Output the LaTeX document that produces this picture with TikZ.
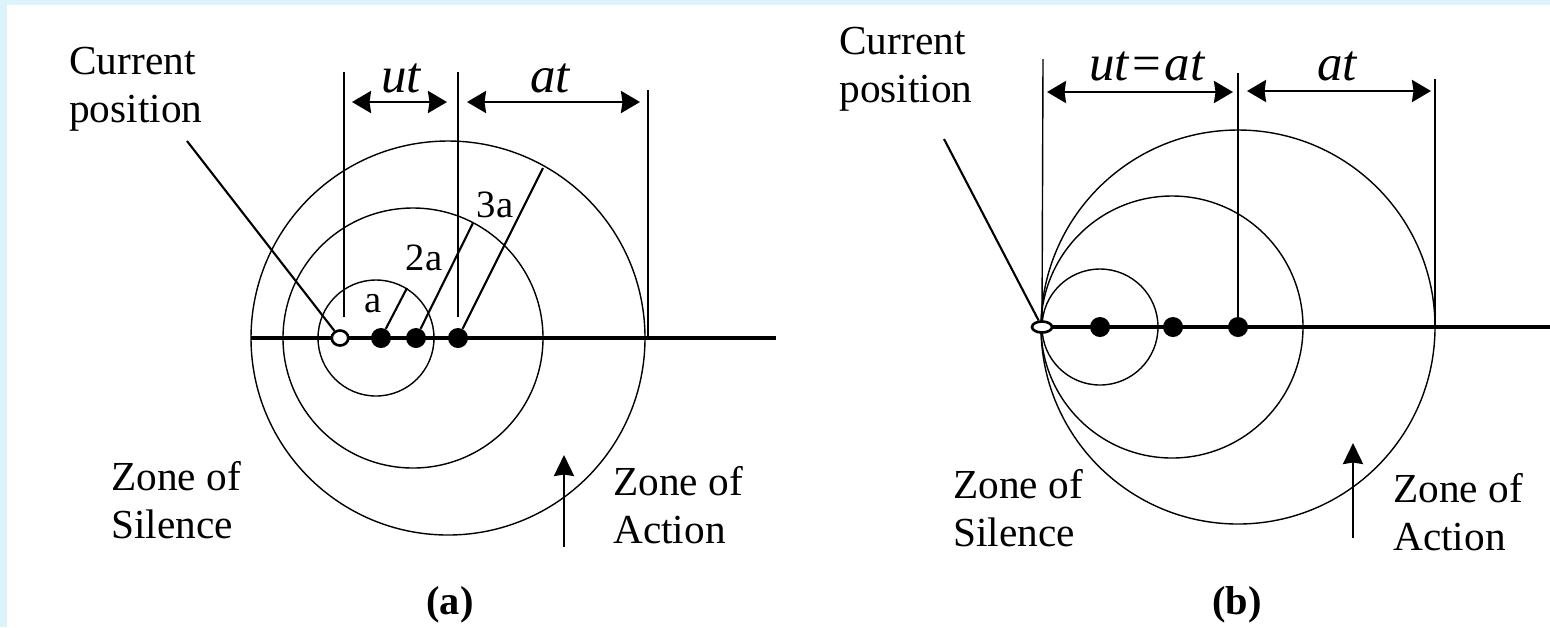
\documentclass[tikz,border=0pt]{standalone}
\usepackage{fontspec}
\setmainfont{Liberation Serif}
\usetikzlibrary{arrows.meta,shapes.geometric}
\definecolor{haze}{RGB}{221,243,252}
\definecolor{ink}{RGB}{0,0,0}
\tikzset{
  >={Stealth[length=3.8mm,width=4.4mm,inset=0.3mm]},
  dim/.style={<->,line width=1.6pt,draw=ink},
  guide/.style={line width=0.8pt,draw=ink},
  wave/.style={line width=0.8pt,draw=ink},
  ray/.style={line width=1.2pt,draw=ink},
  axis/.style={line width=2.2pt,draw=ink},
  rise/.style={-{Stealth[length=4.2mm,width=4mm,inset=0.3mm]},line width=1.5pt,draw=ink},
  dot/.style={circle,fill=ink,inner sep=0pt,minimum size=4mm},
  here/.style={ellipse,draw=ink,fill=white,line width=1.5pt,inner sep=0pt,
    minimum width=#1,minimum height=3mm},
  here/.default=3.3mm,
  tag/.style={font=\fontsize{23.5}{27.3}\selectfont,align=left,inner sep=0pt},
  num/.style={font=\fontsize{22}{26}\selectfont,inner sep=0pt},
  sym/.style={font=\fontsize{29}{34}\selectfont\itshape,inner sep=0pt},
  panel/.style={font=\fontsize{23}{27}\selectfont\bfseries,inner sep=0pt},
}
\begin{document}
\begin{tikzpicture}[x=0.02cm,y=-0.02cm]
  \useasboundingbox (0,0) rectangle (1550,627);
  \fill[haze] (0,0) rectangle (1550,627);
  \fill[white] (7,5) rectangle (1550,627);
  % panel (a)
  \coordinate (aL) at (251,338); \coordinate (aR) at (776,338);
  \draw[axis] (aL) -- (aR);
  \draw[wave] (376,338) circle[radius=58];
  \draw[wave] (413,338) circle[radius=130];
  \draw[wave] (448,338) circle[radius=197];
  \node[here] (a0) at (340,338) {};
  \node[dot] (a1) at (381,338) {};
  \node[dot] (a2) at (416,338) {};
  \node[dot] (a3) at (458,338) {};
  \coordinate (r1) at (407,288); \coordinate (r2) at (473,223); \coordinate (r3) at (543,168);
  \draw[ray] (a1) -- (r1); \draw[ray] (a2) -- (r2); \draw[ray] (a3) -- (r3);
  \node[num,anchor=base] at (373,312) {a};
  \node[num,anchor=base] at (424,270) {2a};
  \node[num,anchor=base] at (495,217) {3a};
  \draw[guide] (344,72) -- (344,317);
  \draw[guide] (458,72) -- (458,317);
  \draw[guide] (648,90) -- (648,338);
  \coordinate (u1) at (352,102); \coordinate (u2) at (447,102);
  \coordinate (t1) at (467,102); \coordinate (t2) at (640,102);
  \draw[dim] (u1) -- (u2); \draw[dim] (t1) -- (t2);
  \node[sym,anchor=base] at (401,92) {ut};
  \node[sym,anchor=base] at (550,92) {at};
  \node[tag,anchor=base west] (cpa) at (69,122) {Current\\position};
  \coordinate (la) at (187,141);
  \draw[ray] (la) -- (a0);
  \node[tag,anchor=base west] (zsa) at (111,538) {Zone of\\Silence};
  \node[tag,anchor=base west] (zaa) at (613,543) {Zone of\\Action};
  \coordinate (ua) at (564,547); \coordinate (va) at (564,455);
  \draw[rise] (ua) -- (va);
  \node[panel] (capa) at (450,605) {(a)};
  % panel (b)
  \coordinate (bR) at (1550,327);
  \draw[wave] (1100,327) circle[radius=58];
  \draw[wave] (1172,327) circle[radius=131];
  \draw[wave] (1238,327) circle[radius=197];
  \node[here=4mm,minimum height=2.2mm] (b0) at (1042,327) {};
  \draw[axis] (b0) -- (bR);
  \node[dot] (b1) at (1100,327) {};
  \node[dot] (b2) at (1173,327) {};
  \node[dot] (b3) at (1238,327) {};
  \draw[guide] (1043,59) -- (b0);
  \draw[guide] (1238,73) -- (b3);
  \draw[guide] (1435,79) -- (1435,327);
  \coordinate (w1) at (1047,92); \coordinate (w2) at (1233,92);
  \coordinate (s1) at (1247,91); \coordinate (s2) at (1431,91);
  \draw[dim] (w1) -- (w2); \draw[dim] (s1) -- (s2);
  \node[sym,anchor=base] at (1147,80) {ut\kern2pt{\upshape=}\kern2pt at};
  \node[sym,anchor=base] at (1337,80) {at};
  \node[tag,anchor=base west] (cpb) at (839,102) {Current\\position};
  \coordinate (lb) at (944,139);
  \draw[ray] (lb) -- (b0);
  \node[tag,anchor=base west] (zsb) at (953,546) {Zone of\\Silence};
  \node[tag,anchor=base west] (zab) at (1393,550) {Zone of\\Action};
  \coordinate (ub) at (1353,538); \coordinate (vb) at (1353,443);
  \draw[rise] (ub) -- (vb);
  \node[panel] (capb) at (1237,605) {(b)};
\end{tikzpicture}
\end{document}
